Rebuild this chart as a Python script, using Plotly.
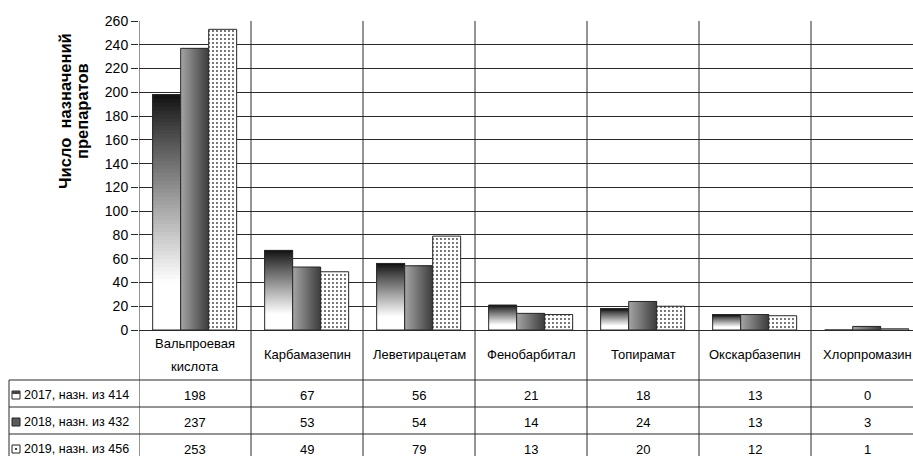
import plotly.graph_objects as go

# ---------------- data ----------------
categories = ["Вальпроевая<br>кислота", "Карбамазепин", "Леветирацетам", "Фенобарбитал",
              "Топирамат", "Окскарбазепин", "Хлорпромазин"]
series_names = ["2017, назн. из 414", "2018, назн. из 432", "2019, назн. из 456"]
v2017 = [198, 67, 56, 21, 18, 13, 0]
v2018 = [237, 53, 54, 14, 24, 13, 3]
v2019 = [253, 49, 79, 13, 20, 12, 1]
y_ticks = list(range(0, 261, 20))
y_title_lines = ["Число  назначений", "препаратов"]

# ---------------- layout constants ----------------
W, H = 913, 456
ML = 139
MT = 21
PLOT_BOTTOM = 330
MB = H - PLOT_BOTTOM
PLOT_H = PLOT_BOTTOM - MT
CAT_PX = 112.0
x_hi = -0.5 + (W - ML) / CAT_PX

FONT = "Liberation Sans, Arial, sans-serif"
LINE = "#2a2a2a"

def py(ypx):   # pixel y -> paper y
    return (PLOT_BOTTOM - ypx) / PLOT_H

def pxx(xpx):  # pixel x -> paper x
    return (xpx - ML) / (W - ML)

BW = 0.25
offs = [-0.378, -0.128, 0.122]
xs = list(range(len(categories)))

fig = go.Figure()

# 2017: vertical gradient, dark at top -> white at bottom
N = 60
for k in range(N):
    t = 1 - (k + 0.5) / N            # 0 at top, 1 at bottom
    g = int(round(15 + 240 * min(1.0, t / 0.8) ** 0.9))
    fig.add_trace(go.Bar(
        x=xs, y=[v * (N - k) / N for v in v2017], base=[v * k / N for v in v2017],
        width=BW, offset=offs[0], marker=dict(color=f"rgb({g},{g},{g})", line=dict(width=0)),
        showlegend=False, hoverinfo="skip"))
fig.add_trace(go.Bar(x=xs, y=v2017, width=BW, offset=offs[0],
                     marker=dict(color="rgba(0,0,0,0)", line=dict(color=LINE, width=1)),
                     showlegend=False, name=series_names[0]))

# 2018: horizontal gradient, light left -> dark right
M = 14
for j in range(M):
    t = (j + 0.5) / M
    g = int(round(165 - 105 * t))
    fig.add_trace(go.Bar(
        x=xs, y=v2018, width=BW * (M - j) / M, offset=offs[1] + BW * j / M,
        marker=dict(color=f"rgb({g},{g},{g})", line=dict(width=0)),
        showlegend=False, hoverinfo="skip"))
fig.add_trace(go.Bar(x=xs, y=v2018, width=BW, offset=offs[1],
                     marker=dict(color="rgba(0,0,0,0)", line=dict(color=LINE, width=1)),
                     showlegend=False, name=series_names[1]))

# 2019: dotted pattern
fig.add_trace(go.Bar(x=xs, y=v2019, width=BW, offset=offs[2],
                     marker=dict(color="white", line=dict(color=LINE, width=1),
                                 pattern=dict(shape=".", fgcolor="#444", bgcolor="white",
                                              size=4, solidity=0.18, fillmode="replace")),
                     showlegend=False, name=series_names[2]))

shapes = []
# vertical category boundaries (through plot and table)
for b in range(len(categories)):
    xb = b - 0.5
    shapes.append(dict(type="line", xref="x", yref="paper", x0=xb, x1=xb, y0=1, y1=py(H + 2),
                       line=dict(color=LINE, width=1), layer="below"))
# table horizontal lines
for ypx in [380, 407, 434]:
    shapes.append(dict(type="line", xref="paper", yref="paper", x0=pxx(9), x1=1.0,
                       y0=py(ypx), y1=py(ypx), line=dict(color=LINE, width=1)))
# left border of table
shapes.append(dict(type="line", xref="paper", yref="paper", x0=pxx(9), x1=pxx(9),
                   y0=py(380), y1=py(H + 2), line=dict(color=LINE, width=1)))

annotations = []
# category labels (multi-line names split into separately placed lines)
for i, c in enumerate(categories):
    parts = c.split("<br>")
    ys = [354] if len(parts) == 1 else [344, 366]
    for part, yy in zip(parts, ys):
        annotations.append(dict(x=i, xref="x", y=py(yy), yref="paper", text=part, showarrow=False,
                                font=dict(family=FONT, size=13, color="black"),
                                xanchor="center", yanchor="middle"))
# table values
rows = [v2017, v2018, v2019]
row_y = [395, 422, 449]
for r, vals in enumerate(rows):
    for i, v in enumerate(vals):
        annotations.append(dict(x=i, xref="x", y=py(row_y[r]), yref="paper", text=str(v),
                                showarrow=False, font=dict(family=FONT, size=13, color="black"),
                                xanchor="center", yanchor="middle"))
    annotations.append(dict(x=pxx(22), xref="paper", y=py(row_y[r]), yref="paper",
                            text=series_names[r], showarrow=False,
                            font=dict(family=FONT, size=12.5, color="black"),
                            xanchor="left", yanchor="middle"))

# legend keys in table
key_fill = ["white", "#5a5a5a", "white"]
for r in range(3):
    yc = row_y[r]
    shapes.append(dict(type="rect", xref="paper", yref="paper", x0=pxx(12), x1=pxx(20),
                       y0=py(yc + 4), y1=py(yc - 4), fillcolor=key_fill[r],
                       line=dict(color="#222", width=1)))
shapes.append(dict(type="rect", xref="paper", yref="paper", x0=pxx(12), x1=pxx(20),
                   y0=py(row_y[0] - 1), y1=py(row_y[0] - 4), fillcolor="#444", line=dict(width=0)))
shapes.append(dict(type="rect", xref="paper", yref="paper", x0=pxx(15), x1=pxx(17),
                   y0=py(row_y[2] + 1), y1=py(row_y[2] - 1), fillcolor="#444", line=dict(width=0)))

# y title (two rotated lines)
for line_text, xc in zip(y_title_lines, [65, 82]):
    annotations.append(dict(x=pxx(xc), xref="paper", y=py(111), yref="paper", text=line_text,
                            textangle=-90, showarrow=False,
                            font=dict(family=FONT, size=16.5, color="black", weight="bold"),
                            xanchor="center", yanchor="middle"))

fig.update_layout(
    width=W, height=H,
    margin=dict(l=ML, r=0, t=MT, b=MB, pad=0, autoexpand=False),
    paper_bgcolor="white", plot_bgcolor="white",
    barmode="overlay",
    showlegend=False,
    shapes=shapes, annotations=annotations,
    xaxis=dict(range=[-0.5, x_hi], showticklabels=False, showgrid=False, zeroline=False,
               ticks="", showline=False, fixedrange=True, automargin=False),
    yaxis=dict(range=[0, 260], tickvals=y_ticks, ticks="outside", ticklen=7, tickcolor=LINE,
               showgrid=True, gridcolor=LINE, gridwidth=1, zeroline=True, zerolinecolor=LINE,
               zerolinewidth=1, showline=False, automargin=False,
               tickfont=dict(family=FONT, size=14, color="black"), fixedrange=True),
)

# remove the default page margin so the 913x456 figure fills the window exactly
fig.write_html("out.html", config={"displayModeBar": False},
               post_script="document.body.style.margin='0';document.body.style.overflow='hidden';")
